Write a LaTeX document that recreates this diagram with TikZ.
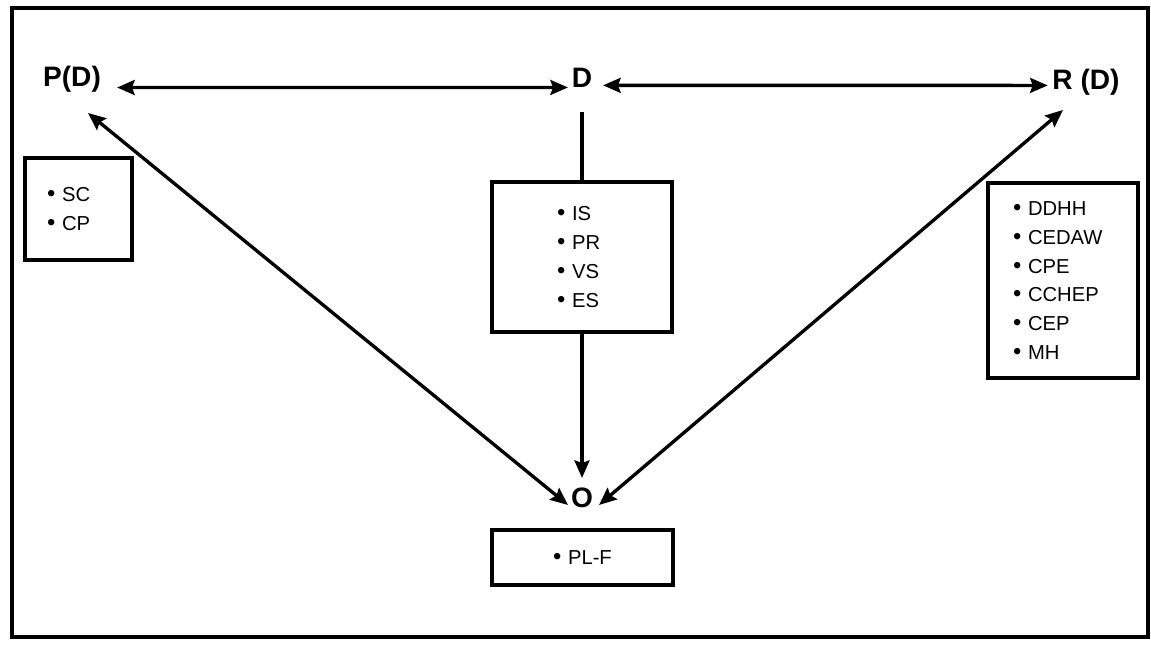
\documentclass[tikz,border=0pt]{standalone}
\usepackage{fontspec}
\setmainfont{Liberation Sans}
\usetikzlibrary{arrows.meta,calc}
\newcommand{\bul}{{\fontsize{13.5}{13.5}\selectfont\textbullet}~}

\begin{document}
\begin{tikzpicture}[>={Stealth[length=10pt,width=8.5pt,inset=1.5pt]},
    lbl/.style={font=\fontsize{16}{18}\selectfont\bfseries, inner sep=0pt, anchor=base},
    listbox/.style={draw, line width=1.9pt, align=left, inner ysep=0pt,
        font=\fontsize{11.5}{16.4}\selectfont},
    link/.style={line width=1.9pt}]

    %% Background
    \useasboundingbox (0,0) rectangle (23.02,-13);
    \draw[line width=1.9pt] (0.24,-0.16) rectangle (22.96,-12.74);

  % Nhãn chính
  \node[lbl] (pd) at (1.44,-1.74) {P(D)};
  \node[lbl] (d)  at (11.64,-1.76) {D};
  \node[lbl] (rd) at (21.72,-1.80) {R (D)};
  \node[lbl] (o)  at (11.64,-10.16) {O};

  % Các hộp danh sách
  \node[listbox, text width=1.26cm, inner xsep=0.44cm, minimum height=2.04cm] (sc) at (1.57,-4.18)
    {\bul SC\\ \bul CP};
  \node[listbox, text width=1.0cm, inner xsep=1.3cm, minimum height=3.0cm] (is) at (11.64,-5.14)
    {\bul IS\\ \bul PR\\ \bul VS\\ \bul ES};
  \node[listbox, text width=2.0cm, inner xsep=0.5cm, minimum height=3.9cm] (dd) at (21.26,-5.61)
    {\bul DDHH\\ \bul CEDAW\\ \bul CPE\\ \bul CCHEP\\ \bul CEP\\ \bul MH};
  \node[listbox, text width=1.18cm, inner xsep=1.22cm, minimum height=1.1cm] (pl) at (11.65,-11.15)
    {\mbox{\bul PL-F}};

  % Mũi tên ngang
  \draw[link, <->] ([xshift=9pt,yshift=-0.3pt]pd.base east) -- ([xshift=-2pt,yshift=0.3pt]d.base west);
  \draw[link, <->] ([xshift=6pt,yshift=1.5pt]d.base east) -- ([xshift=-2.5pt,yshift=2.6pt]rd.base west);

  % Đường dọc qua hộp giữa
  \draw[link] ([yshift=-0.48cm]d.base) -- (is.north);
  \draw[link, ->] (is.south) -- ([yshift=0.6cm]o.base);

  % Mũi tên chéo
  \draw[link, <->] ([shift={(0.32,-0.52)}]pd.base) -- ([shift={(-0.28,0.06)}]o.base);
  \draw[link, <->] ([shift={(-0.46,-0.40)}]rd.base) -- ([shift={(0.34,0.06)}]o.base);

\end{tikzpicture}
\end{document}
